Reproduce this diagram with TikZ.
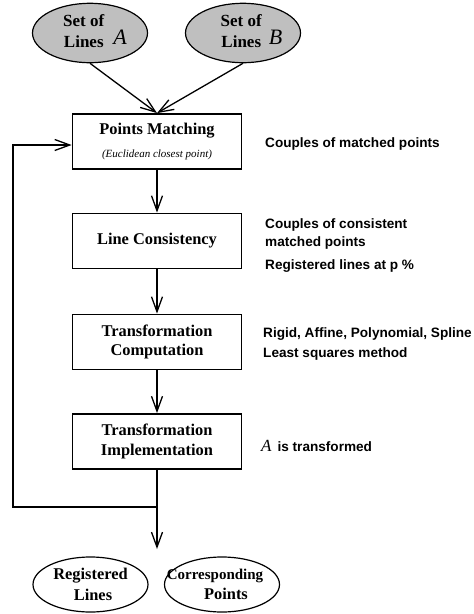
\documentclass[tikz,border=0pt]{standalone}
\usepackage{fontspec}
\setmainfont{Liberation Serif}
\newfontfamily\notefont{Liberation Sans}
\usetikzlibrary{positioning,shapes,arrows.meta}

\tikzset{
  stepbox/.style={draw,rectangle,line width=1.8pt,minimum width=169pt,minimum height=55pt,
    align=center,font=\fontsize{16.4}{19.5}\selectfont\bfseries},
  inlines/.style={draw,ellipse,fill=black!25,line width=1.2pt,minimum width=115pt,minimum height=57pt,
    inner sep=0pt,font=\fontsize{17}{21}\selectfont\bfseries},
  outlines/.style={draw,ellipse,line width=1.2pt,minimum width=115pt,minimum height=55pt,
    inner sep=0pt},
  outtext/.style={align=center,inner sep=0pt,font=\fontsize{16.4}{20.5}\selectfont\bfseries},
  note/.style={anchor=base west,inner sep=0pt,font=\notefont\fontsize{13.6}{16}\selectfont\bfseries},
  flow/.style={line width=1.3pt,-{Straight Barb[length=15pt,width=11pt]}}
}

\begin{document}
\begin{tikzpicture}[x=1pt,y=-1pt]
\useasboundingbox (0,0) rectangle (474,614);

\node[inlines] (setA) at (90,33) {\hspace*{10pt}\begin{tabular}[b]{@{}c@{}}Set of\\Lines\end{tabular}\hspace{9pt}\raisebox{3pt}{\fontsize{22}{22}\selectfont\mdseries\itshape A}};
\node[inlines] (setB) at (243,33) {\hspace*{17pt}\begin{tabular}[b]{@{}c@{}}Set of\\Lines\end{tabular}\hspace{7pt}\raisebox{3pt}{\fontsize{22}{22}\selectfont\mdseries\itshape B}};

\node[stepbox] (match) at (157,141.5) {Points Matching\\[4pt]{\fontsize{11}{13}\selectfont\mdseries\itshape (Euclidean closest point)}};
\node[stepbox] (consist) at (157,241) {Line Consistency};
\node[stepbox] (compute) at (157,342) {Transformation\\Computation};
\node[stepbox] (apply) at (157,441.5) {Transformation\\Implementation};

\coordinate (split) at (157,507);
\coordinate (back) at (13,507);
\coordinate (up) at (13,145);
\coordinate (out) at (157,549);

\draw[flow] (setA.south) -- (match.north);
\draw[flow] (setB.south) -- (match.north);
\draw[flow] (match) -- (consist);
\draw[flow] (consist) -- (compute);
\draw[flow] (compute) -- (apply);
\draw[flow] (apply) -- (out);
\draw[flow] (split) -- (back) -- (up) -- (up -| match.west);

\node[outlines] (reglines) at (90.5,584.5) {};
\node[outtext] (regtext) at (90.5,584.5) {Registered\\\hspace*{5pt}Lines};
\node[outlines] (corrpts) at (222,584.5) {};
\node[outtext] (corrtext) at (215,584.5) {\fontsize{15}{20.5}\selectfont Corresponding\\\hspace*{22pt}Points};

\node[note] (n1) at (265,147) {Couples of matched points};
\node[note] (n2) at (265,228) {Couples of consistent};
\node[note] (n3) at (265,246) {matched points};
\node[note] (n4) at (265,269) {Registered lines at p \%};
\node[note] (n5) at (263,337) {Rigid, Affine, Polynomial, Spline};
\node[note] (n6) at (263,357) {Least squares method};
\node[note] (n7) at (261,451) {{\fontsize{17}{17}\selectfont$\mathit{A}$}\hspace{6pt}is transformed};
\end{tikzpicture}
\end{document}
